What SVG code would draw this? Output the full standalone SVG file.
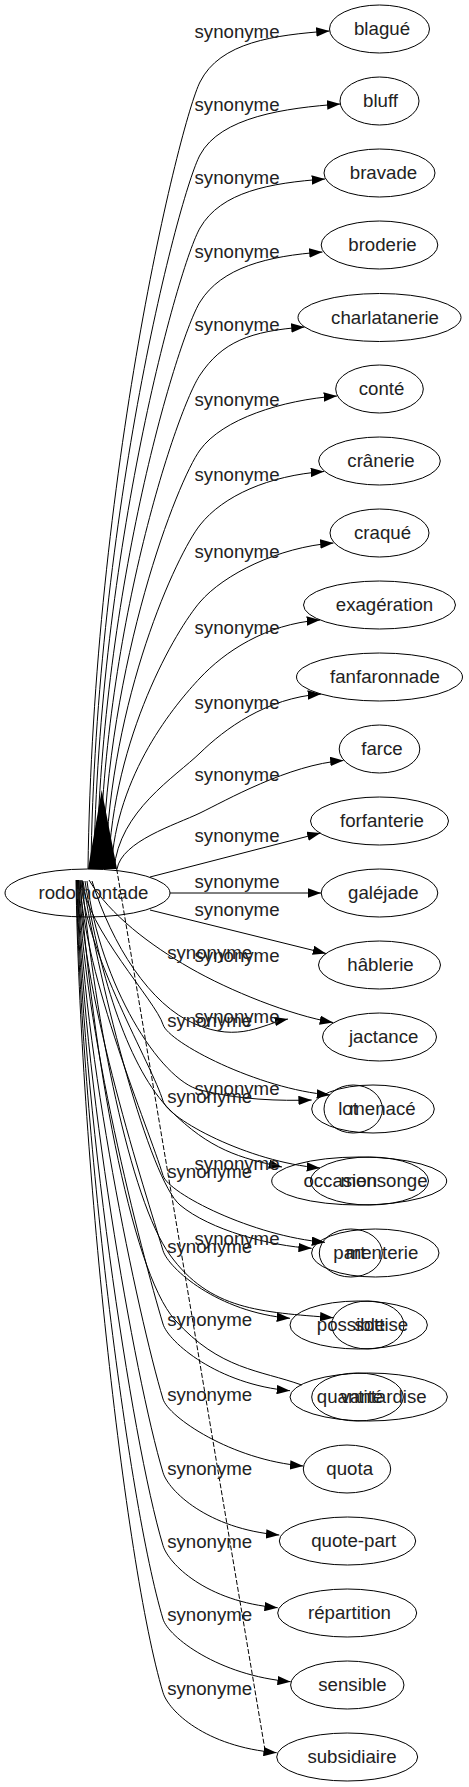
<svg xmlns="http://www.w3.org/2000/svg" width="469" height="1787" viewBox="0 0 469 1787">
<style>
.n ellipse{fill:none;stroke:#000;stroke-width:1}
text{font-family:"Liberation Sans",Arial,sans-serif;font-size:18.67px;fill:#222;text-anchor:middle}
.e path{fill:none;stroke:#000;stroke-width:1}
.e path.a{marker-end:url(#ah)}
.e path.d{stroke-dasharray:5,2}
</style>
<defs>
<marker id="ah" viewBox="0 0 13.3 9.4" refX="13.3" refY="4.7" markerWidth="13.3" markerHeight="9.4" markerUnits="userSpaceOnUse" orient="auto"><path d="M0,0 L13.3,4.7 L0,9.4 z" fill="#000"/></marker>
</defs>
<rect width="469" height="1787" fill="#fff"/>
<g id="edges" class="e">
<path class="a" d="M88,869 C93,476 180,122 200,82 S274.5,35 329.5,31"/>
<path class="a" d="M90.9,869 C95.9,512 179.5,193.2 200,155 S285.3,108 340.3,104"/>
<path class="a" d="M93.8,869 C98.8,548.5 179,264.4 200,228 S270,183 325,179"/>
<path class="a" d="M96.7,869 C101.7,585.5 178.5,336.6 200,302 S267.5,256 322.5,252"/>
<path class="a" d="M99.6,869 C104.6,622 178,407.8 200,375 S249.5,331 304.5,327"/>
<path class="a" d="M102.5,869 C107.5,659.5 177.5,481 200,450 S282,400 337,396"/>
<path class="a" d="M105.4,869 C110.4,697 177,554.2 200,525 S269,475.5 324,471.5"/>
<path class="a" d="M108.3,869 C113.3,735.5 176.5,629.4 200,602 S278.5,547 333.5,543"/>
<path class="a" d="M111.2,869 C116.2,773.5 176,703.6 200,678 S265,624 320,620"/>
<path class="a" d="M114.1,869 C119.1,811 175.5,776.8 200,753 S266,698 321,694"/>
<path class="a" d="M117,869 C122,841 175,825 200,813 S288.5,764.5 343.5,760.5"/>
<path class="a" d="M150,877 L320.5,833"/>
<path class="a" d="M170,893 L321.2,893"/>
<path class="a" d="M150,910 L326,953.5"/>
<path class="a" d="M89,880 C110,915 150,945 190,968 S290,1015 333,1022.5"/>
<path class="a" d="M92,881 C112,945 150,1005 195,1024 S262,1024 288,1019"/>
<path class="a" d="M87,881 C100,985 160,1080 200,1090 S280,1101 311.7,1100"/>
<path class="a" d="M85,881 C100,980 130,1070 170,1110 S240,1158 282,1167"/>
<path class="a" d="M83,881 C100,990 150,1180 180,1205 S270,1246 311.7,1248.3"/>
<path class="a" d="M82,881 C95,1020 130,1200 170,1255 S260,1312 333.3,1317.7"/>
<path d="M80,881 C92,1050 130,1270 175,1320 S260,1370 301.7,1385"/>
<path class="a" d="M82,880 C86,927.7 156.1,1001.4 163,1024.5 C168.4,1042.5 258,1089 330,1095"/>
<path class="a" d="M81,880 C85,952.9 152.4,1065.6 163,1101 C168.4,1119 248,1162 320,1168"/>
<path class="a" d="M80,880 C84,977.5 148.8,1128.2 163,1175.5 C168.4,1193.5 253,1236.3 325,1242.3"/>
<path class="a" d="M79,880 C83,1002.3 145.2,1191.2 163,1250.5 C168.4,1268.5 218,1312.3 290,1318.3"/>
<path class="a" d="M78.5,880 C82.5,1026.5 141.7,1253 163,1324 C168.4,1342 218,1384.7 290,1390.7"/>
<path class="a" d="M78,880 C82,1051.3 138.1,1316 163,1399 C168.4,1417 231.3,1460 303.3,1466"/>
<path class="a" d="M77.5,880 C81.5,1075.5 134.6,1377.7 163,1472.5 C168.4,1490.5 207.3,1529 279.3,1535"/>
<path class="a" d="M77,880 C81,1099.6 131,1439 163,1545.5 C168.4,1563.5 205.7,1601.7 277.7,1607.7"/>
<path class="a" d="M76.5,880 C80.5,1123.9 127.5,1500.8 163,1619 C168.4,1637 218.7,1675.7 290.7,1681.7"/>
<path class="a" d="M76,880 C80,1148.1 124,1562.5 163,1692.5 C168.4,1710.5 204.7,1746.7 276.7,1752.7"/>
<path class="d" d="M116.7,869 L265,1750"/>
<polygon points="88,869 117,869 101.7,790" fill="#000"/>
<text x="237" y="38">synonyme</text>
<text x="237" y="111">synonyme</text>
<text x="237" y="184">synonyme</text>
<text x="237" y="258">synonyme</text>
<text x="237" y="331">synonyme</text>
<text x="237" y="406">synonyme</text>
<text x="237" y="481">synonyme</text>
<text x="237" y="558">synonyme</text>
<text x="237" y="634">synonyme</text>
<text x="237" y="709">synonyme</text>
<text x="237" y="781">synonyme</text>
<text x="237" y="842">synonyme</text>
<text x="237" y="888">synonyme</text>
<text x="237" y="916">synonyme</text>
<text x="237" y="962">synonyme</text>
<text x="237" y="1022.5">synonyme</text>
<text x="237" y="1094.5">synonyme</text>
<text x="237" y="1170">synonyme</text>
<text x="237" y="1245">synonyme</text>
<text x="209.7" y="959">synonyme</text>
<text x="209.7" y="1026.5">synonyme</text>
<text x="209.7" y="1103">synonyme</text>
<text x="209.7" y="1177.5">synonyme</text>
<text x="209.7" y="1252.5">synonyme</text>
<text x="209.7" y="1326">synonyme</text>
<text x="209.7" y="1401">synonyme</text>
<text x="209.7" y="1474.5">synonyme</text>
<text x="209.7" y="1547.5">synonyme</text>
<text x="209.7" y="1621">synonyme</text>
<text x="209.7" y="1694.5">synonyme</text>
</g>
<g id="rodomontade" class="n"><ellipse cx="87.5" cy="893" rx="82.5" ry="24"/><text x="93.5" y="899">rodomontade</text></g>
<g id="blague" class="n"><ellipse cx="379.5" cy="29" rx="50" ry="24"/><text x="382" y="35">blagué</text></g>
<g id="bluff" class="n"><ellipse cx="379.5" cy="101" rx="39.5" ry="24"/><text x="380.5" y="107">bluff</text></g>
<g id="bravade" class="n"><ellipse cx="379.5" cy="173" rx="55.5" ry="24"/><text x="383.5" y="179">bravade</text></g>
<g id="broderie" class="n"><ellipse cx="379.5" cy="245" rx="58.3" ry="24"/><text x="382.5" y="251">broderie</text></g>
<g id="charlatanerie" class="n"><ellipse cx="379.5" cy="317.5" rx="81.5" ry="24"/><text x="385" y="323.5">charlatanerie</text></g>
<g id="conte" class="n"><ellipse cx="379.5" cy="389" rx="43.8" ry="24"/><text x="381.5" y="395">conté</text></g>
<g id="cranerie" class="n"><ellipse cx="379.5" cy="461" rx="60.8" ry="24"/><text x="381" y="467">crânerie</text></g>
<g id="craque" class="n"><ellipse cx="379.5" cy="533" rx="49.5" ry="24"/><text x="382.5" y="539">craqué</text></g>
<g id="exageration" class="n"><ellipse cx="379.5" cy="605" rx="76" ry="24"/><text x="384.5" y="611">exagération</text></g>
<g id="fanfaronnade" class="n"><ellipse cx="379.5" cy="677" rx="83" ry="24"/><text x="385" y="683">fanfaronnade</text></g>
<g id="farce" class="n"><ellipse cx="379.5" cy="749" rx="40.3" ry="24"/><text x="382" y="755">farce</text></g>
<g id="forfanterie" class="n"><ellipse cx="379.5" cy="821" rx="69" ry="24"/><text x="382" y="827">forfanterie</text></g>
<g id="galejade" class="n"><ellipse cx="379.5" cy="893" rx="58.3" ry="24"/><text x="383.3" y="899">galéjade</text></g>
<g id="hablerie" class="n"><ellipse cx="379.5" cy="965" rx="61" ry="24"/><text x="380.5" y="971">hâblerie</text></g>
<g id="jactance" class="n"><ellipse cx="379.5" cy="1037" rx="57" ry="24"/><text x="383.7" y="1043">jactance</text></g>
<g id="lot" class="n"><ellipse cx="353.2" cy="1109" rx="29.2" ry="24"/><text x="348" y="1115">lot</text></g>
<g id="menace" class="n"><ellipse cx="373" cy="1109" rx="61.3" ry="24"/><text x="382.5" y="1115">menacé</text></g>
<g id="occasion" class="n"><ellipse cx="359.2" cy="1181" rx="87.5" ry="24"/><text x="340.2" y="1187">occasion</text></g>
<g id="mensonge" class="n"><ellipse cx="369.5" cy="1181" rx="59" ry="24"/><text x="384" y="1187">mensonge</text></g>
<g id="part" class="n"><ellipse cx="350.8" cy="1253" rx="31.5" ry="24"/><text x="349.4" y="1259">part</text></g>
<g id="menterie" class="n"><ellipse cx="375.3" cy="1253" rx="63.7" ry="24"/><text x="382" y="1259">menterie</text></g>
<g id="possible" class="n"><ellipse cx="358.7" cy="1325" rx="68.7" ry="24"/><text x="351" y="1331">possible</text></g>
<g id="sottise" class="n"><ellipse cx="367.8" cy="1325" rx="36.2" ry="24"/><text x="381.3" y="1331">sottise</text></g>
<g id="quantite" class="n"><ellipse cx="357.5" cy="1397" rx="45.8" ry="24"/><text x="350" y="1403">quantité</text></g>
<g id="vantardise" class="n"><ellipse cx="368.7" cy="1397" rx="78.7" ry="24"/><text x="383.6" y="1403">vantardise</text></g>
<g id="quota" class="n"><ellipse cx="347" cy="1469" rx="43.7" ry="24"/><text x="349.7" y="1475">quota</text></g>
<g id="quote-part" class="n"><ellipse cx="347.5" cy="1541" rx="68.2" ry="24"/><text x="353.7" y="1547">quote-part</text></g>
<g id="repartition" class="n"><ellipse cx="347.2" cy="1613" rx="69.5" ry="24"/><text x="349.5" y="1619">répartition</text></g>
<g id="sensible" class="n"><ellipse cx="347.3" cy="1685" rx="56.7" ry="24"/><text x="352.5" y="1691">sensible</text></g>
<g id="subsidiaire" class="n"><ellipse cx="347.2" cy="1757" rx="70.5" ry="24"/><text x="352" y="1763">subsidiaire</text></g>
</svg>
